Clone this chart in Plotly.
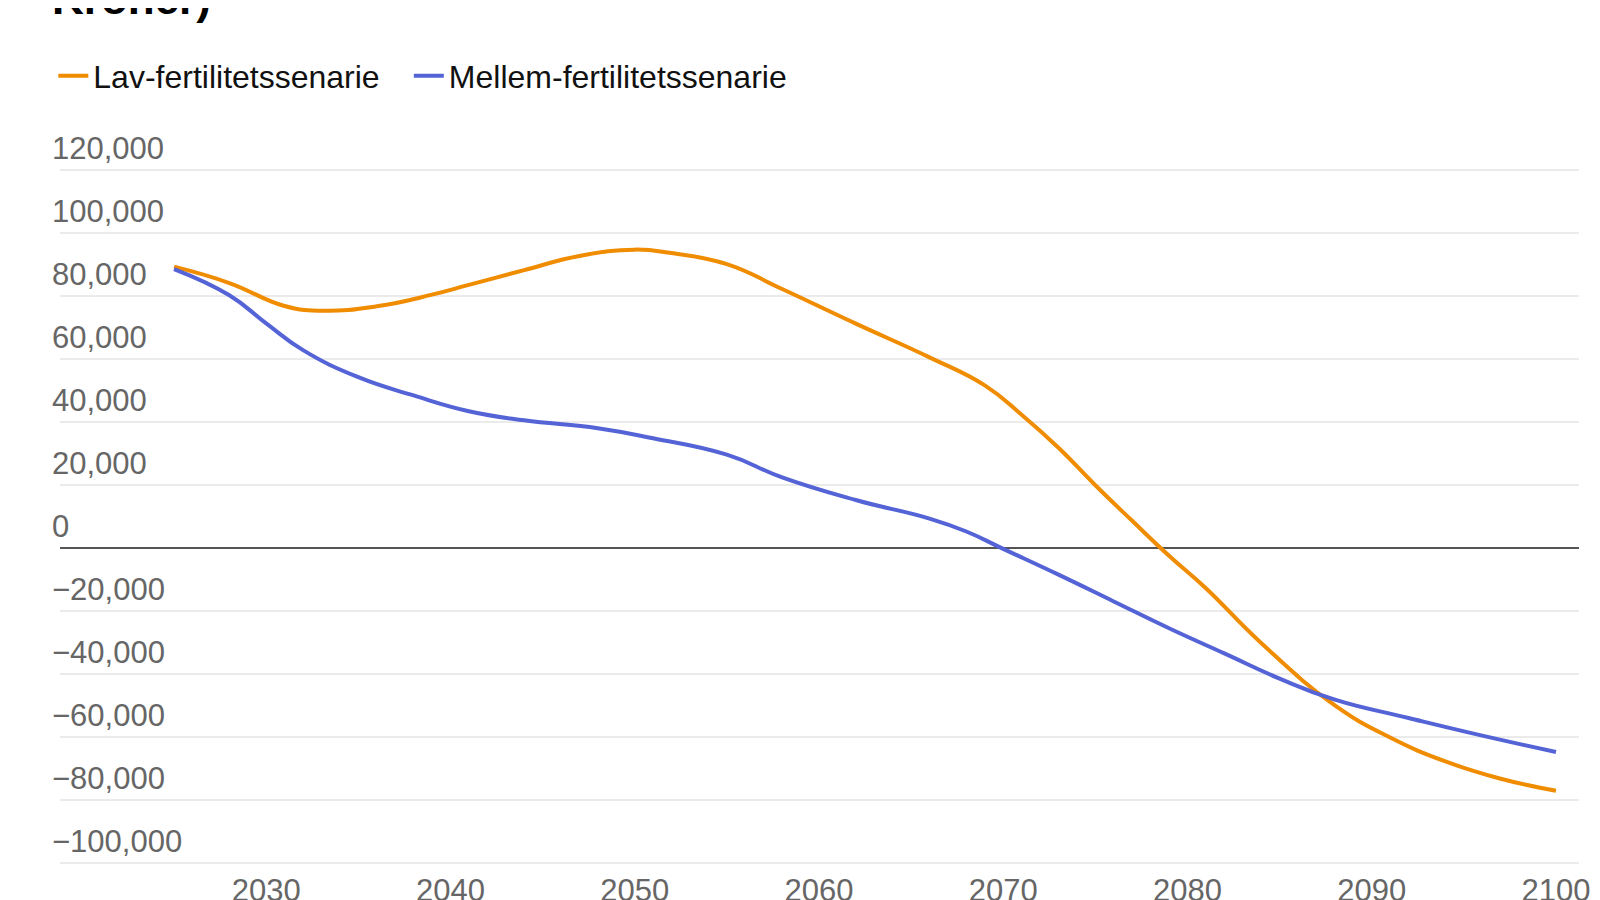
import plotly.graph_objects as go

# Lav-fertilitetssenarie (orange)
lav_years = [2025, 2028, 2031, 2033, 2036, 2039, 2041, 2044, 2047, 2050, 2052, 2055,
             2058, 2062, 2066, 2069, 2071, 2073, 2075, 2077, 2079, 2081, 2084, 2088,
             2091, 2094, 2097, 2100]
lav_values = [89300, 84100, 76800, 75300, 76700, 80400, 83500, 88200, 92700, 94700, 93600, 90100,
              82200, 71200, 60500, 51600, 42300, 31800, 19900, 8600, -2500, -12800, -30200, -50000,
              -60200, -67800, -73300, -77100]

# Mellem-fertilitetssenarie (blue)
mellem_years = [2025, 2028, 2030, 2032, 2035, 2038, 2041, 2044, 2048, 2051, 2055, 2058,
                2062, 2066, 2068, 2070, 2073, 2076, 2079, 2082, 2085, 2088, 2092, 2096, 2100]
mellem_values = [88500, 80200, 71300, 62800, 54200, 48400, 43400, 40500, 38000, 34800, 29600, 22400,
                 15200, 9300, 5200, -300, -8500, -17000, -25500, -33500, -41500, -48200, -54000, -59600,
                 -64800]

y_ticks = [-100000, -80000, -60000, -40000, -20000, 0, 20000, 40000, 60000, 80000, 100000, 120000]
x_ticks = [2030, 2040, 2050, 2060, 2070, 2080, 2090, 2100]

font = "Liberation Sans, Arial, sans-serif"
gap = "\u00a0\u00a0\u2009"

fig = go.Figure()
fig.add_trace(go.Scatter(x=lav_years, y=lav_values, name="Lav-fertilitetssenarie" + gap,
                         mode="lines",
                         line=dict(color="#F08C00", width=4, shape="spline", smoothing=1.3)))
fig.add_trace(go.Scatter(x=mellem_years, y=mellem_values, name="Mellem-fertilitetssenarie",
                         mode="lines",
                         line=dict(color="#5463D6", width=4, shape="spline", smoothing=1.3)))

fig.update_layout(
    width=1600, height=900,
    margin=dict(l=52, r=29, t=121, b=42),
    paper_bgcolor="white", plot_bgcolor="white",
    font=dict(family=font, size=31, color="#666666"),
    showlegend=True,
    legend=dict(orientation="h", x=-0.0044, xanchor="left", y=1.072, yanchor="middle",
                font=dict(size=32, color="#111111"), itemwidth=30),
    annotations=[dict(text="<b>Kroner)</b>", xref="paper", yref="paper", x=0, y=1.141,
                      xanchor="left", yanchor="bottom", showarrow=False, xshift=-10,
                      font=dict(size=44, color="#000000", family=font))],
)

fig.update_xaxes(range=[2018.81, 2101.25], tickvals=x_ticks, showgrid=False, zeroline=False,
                 showline=False, ticks="", tickfont=dict(size=31, color="#666666"),
                 ticklabelstandoff=3, automargin=False)
fig.update_yaxes(range=[-101000, 133000], tickvals=y_ticks, tickformat=",",
                 showgrid=True, gridcolor="#EBEBEB", gridwidth=2,
                 zeroline=True, zerolinecolor="#555555", zerolinewidth=2,
                 showline=False, ticks="", ticklabelposition="inside top",
                 ticklabelstandoff=-11,
                 tickfont=dict(size=31, color="#666666"), automargin=False)

fig.write_html("out.html")
